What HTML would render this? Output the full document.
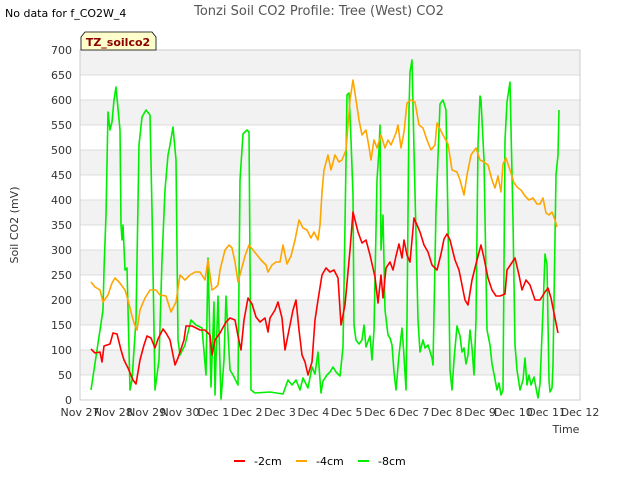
<!DOCTYPE html>
<html><head><meta charset="utf-8"><style>
body{margin:0;background:#fff;}
svg{display:block;font-family:"DejaVu Sans","Liberation Sans",sans-serif;}
</style></head><body>
<svg id="chart" width="640" height="480">
<text x="5" y="17" font-size="11" fill="#000">No data for f_CO2W_4</text>
<text x="319" y="15" font-size="13" fill="#555" text-anchor="middle">Tonzi Soil CO2 Profile: Tree (West) CO2</text>
<g id="grid"></g>
<g id="series"></g>
<rect x="80" y="50" width="500" height="350" fill="none" stroke="#ccc"/>
<g id="axes"></g>
<path d="M81,50 L81,37 L85,32 L152,32 L156,37 L156,50 Z" fill="#ffffcc" stroke="#000" stroke-width="0.8"/>
<text x="118" y="46" font-size="11" font-weight="bold" fill="#8b0000" text-anchor="middle">TZ_soilco2</text>
<text x="18" y="225" font-size="11" fill="#333" text-anchor="middle" transform="rotate(-90 18 225)">Soil CO2 (mV)</text>
<text x="566" y="433" font-size="11" fill="#333" text-anchor="middle">Time</text>
<g id="legend"></g>
</svg>
<script>
const xTickLabels=["Nov 27","Nov 28","Nov 29","Nov 30","Dec 1","Dec 2","Dec 3","Dec 4","Dec 5","Dec 6","Dec 7","Dec 8","Dec 9","Dec 10","Dec 11","Dec 12"];
const yTicks=[0,50,100,150,200,250,300,350,400,450,500,550,600,650,700];
const seriesNames=["-2cm","-4cm","-8cm"];
const seriesColors=["#ff0000","#ffa500","#00ee00"];
const redDays=[0.33,0.45,0.6,0.66,0.72,0.9,0.99,1.11,1.23,1.32,1.44,1.59,1.68,1.8,1.92,2.01,2.13,2.25,2.34,2.49,2.58,2.7,2.76,2.85,2.94,3.0,3.12,3.18,3.36,3.48,3.6,3.75,3.9,3.96,4.05,4.2,4.38,4.5,4.65,4.74,4.83,4.92,5.04,5.16,5.28,5.4,5.55,5.64,5.7,5.85,5.94,6.06,6.15,6.3,6.39,6.48,6.57,6.66,6.75,6.84,6.96,7.05,7.14,7.26,7.38,7.5,7.62,7.74,7.83,7.95,8.1,8.19,8.34,8.46,8.58,8.7,8.85,8.94,9.03,9.09,9.18,9.3,9.39,9.48,9.57,9.66,9.72,9.81,9.9,10.02,10.2,10.32,10.44,10.56,10.71,10.83,10.92,11.01,11.1,11.25,11.37,11.46,11.55,11.64,11.76,11.91,12.03,12.12,12.24,12.36,12.48,12.6,12.75,12.81,12.93,13.05,13.17,13.26,13.38,13.5,13.65,13.8,13.95,14.04,14.13,14.25,14.34];
const redValues=[102,94,96,76,108,112,134,132,100,80,64,40,32,80,110,128,124,104,122,142,134,120,100,70,84,96,120,148,148,144,140,140,130,90,120,134,156,164,160,128,100,160,204,192,166,156,164,136,164,180,196,164,100,150,180,200,140,90,76,50,76,160,200,250,264,256,260,244,150,190,300,376,336,314,320,290,246,194,250,204,264,276,260,288,312,284,320,290,276,364,336,310,296,270,260,292,322,332,320,280,260,230,200,190,240,280,310,284,244,220,208,208,212,260,272,284,250,220,240,230,200,200,216,224,204,164,134];
const orangeDays=[0.33,0.45,0.6,0.69,0.84,0.96,1.05,1.17,1.35,1.44,1.53,1.62,1.71,1.8,1.95,2.1,2.28,2.4,2.58,2.73,2.88,3.0,3.15,3.3,3.45,3.6,3.75,3.84,3.96,4.05,4.14,4.2,4.35,4.47,4.56,4.65,4.74,4.95,5.07,5.19,5.31,5.43,5.58,5.64,5.76,5.88,6.0,6.09,6.21,6.33,6.45,6.51,6.57,6.69,6.81,6.93,7.02,7.14,7.2,7.26,7.32,7.44,7.53,7.65,7.77,7.86,7.98,8.1,8.19,8.28,8.37,8.46,8.58,8.67,8.73,8.82,8.91,9.03,9.15,9.24,9.33,9.48,9.54,9.63,9.72,9.81,9.93,10.05,10.17,10.29,10.41,10.53,10.65,10.71,10.89,11.04,11.16,11.31,11.4,11.52,11.61,11.73,11.88,12.0,12.12,12.24,12.36,12.45,12.54,12.63,12.69,12.78,12.9,13.02,13.14,13.23,13.35,13.47,13.59,13.71,13.8,13.89,13.98,14.07,14.16,14.25,14.31];
const orangeValues=[236,226,220,196,210,234,244,236,220,200,176,154,140,180,204,220,220,210,208,176,196,250,240,250,256,256,240,280,220,224,230,260,300,310,304,276,236,288,310,300,290,280,270,256,270,276,276,310,272,288,320,340,360,344,340,324,336,320,350,416,460,490,460,490,476,480,500,600,640,600,560,530,540,506,480,520,504,530,504,520,510,534,550,504,536,594,600,596,550,544,520,500,510,554,530,512,460,456,440,410,450,490,504,480,476,470,440,424,448,416,472,484,460,434,424,420,408,400,404,392,392,404,374,370,376,360,346];
const greenDays=[0.33,0.69,0.72,0.78,0.84,0.9,0.96,1.02,1.08,1.2,1.23,1.26,1.29,1.35,1.41,1.5,1.56,1.68,1.77,1.86,1.98,2.1,2.16,2.25,2.37,2.46,2.55,2.64,2.7,2.79,2.88,2.94,3.0,3.15,3.33,3.48,3.66,3.78,3.84,3.93,4.02,4.05,4.08,4.14,4.23,4.32,4.38,4.5,4.59,4.74,4.8,4.89,5.01,5.07,5.13,5.25,5.7,6.09,6.24,6.36,6.48,6.6,6.69,6.84,6.96,7.05,7.14,7.23,7.29,7.41,7.5,7.59,7.68,7.8,7.89,7.95,8.01,8.07,8.13,8.19,8.22,8.28,8.37,8.46,8.52,8.58,8.7,8.76,8.82,8.91,8.97,9.0,9.03,9.09,9.15,9.24,9.3,9.36,9.42,9.48,9.57,9.66,9.72,9.78,9.81,9.87,9.9,9.96,10.02,10.14,10.2,10.29,10.35,10.44,10.56,10.59,10.68,10.8,10.89,10.98,11.04,11.1,11.16,11.22,11.31,11.4,11.46,11.52,11.58,11.64,11.7,11.76,11.82,11.88,11.94,12.0,12.03,12.12,12.21,12.3,12.36,12.42,12.51,12.57,12.63,12.69,12.75,12.81,12.9,12.99,13.05,13.11,13.2,13.29,13.35,13.41,13.47,13.53,13.62,13.68,13.74,13.8,13.89,13.95,14.01,14.07,14.1,14.16,14.19,14.22,14.28,14.34,14.37];
const greenValues=[20,180,260,370,576,540,556,600,626,540,350,320,350,260,264,20,40,160,510,566,580,570,380,20,80,280,420,490,510,546,480,120,90,110,160,150,144,50,284,26,196,10,80,208,0,80,208,60,50,30,440,532,540,536,20,14,16,12,40,30,40,20,44,24,66,52,96,14,38,50,56,66,56,48,106,350,610,614,520,410,150,120,112,120,150,106,128,80,140,440,500,550,300,370,180,130,124,110,56,20,90,144,88,20,160,580,656,680,500,160,96,120,104,110,84,70,380,592,600,580,356,60,20,80,148,128,96,104,72,90,140,104,50,160,510,608,600,480,140,110,72,52,20,34,10,20,520,596,636,360,110,60,20,40,84,30,50,30,46,24,4,32,180,292,270,40,16,24,70,200,450,490,580];

const NS='http://www.w3.org/2000/svg';
const PX0=80,PX1=580,PY0=400,PY1=50,DAYS=15,VMAX=700;
function xs(d){return PX0+d*(PX1-PX0)/DAYS;}
function ys(v){return PY0-v*(PY0-PY1)/VMAX;}
function mk(tag,attrs,parent){const e=document.createElementNS(NS,tag);for(const k in attrs)e.setAttribute(k,attrs[k]);parent.appendChild(e);return e;}
const grid=document.getElementById('grid'),axes=document.getElementById('axes'),ser=document.getElementById('series'),leg=document.getElementById('legend');
for(let i=0;i<yTicks.length-1;i++){
  if(i%2===1){const r=mk('rect',{x:PX0,y:ys(yTicks[i+1]),width:PX1-PX0,height:ys(yTicks[i])-ys(yTicks[i+1]),fill:'#f2f2f2'},grid);
  
  }
}
yTicks.forEach(v=>{
  const l=mk('line',{x1:PX0,x2:PX1,y1:ys(v),y2:ys(v),stroke:'#dcdcdc'},grid);
  
  
  const t=mk('text',{x:PX0-8,y:ys(v)+4,'font-size':11,fill:'#333','text-anchor':'end'},axes);
  t.textContent=v;
  
  
});
xTickLabels.forEach((lab,i)=>{
  const t=mk('text',{x:xs(i),y:PY0+16,'font-size':11,fill:'#333','text-anchor':'middle'},axes);
  t.textContent=lab;
  
  
});
const allDays=[redDays,orangeDays,greenDays],allVals=[redValues,orangeValues,greenValues];
[2,1,0].forEach(s=>{
  const d=allDays[s],v=allVals[s],n=Math.min(d.length,v.length);let p='';
  for(let i=0;i<n;i++)p+=(i?'L':'M')+xs(d[i]).toFixed(1)+','+ys(v[i]).toFixed(1);
  const path=mk('path',{d:p,fill:'none',stroke:seriesColors[s],'stroke-width':1.6,'stroke-linejoin':'round'},ser);
  
  
});
const legX=[234,296,358];
seriesNames.forEach((nm,i)=>{
  const l=mk('line',{x1:legX[i],x2:legX[i]+11,y1:461,y2:461,stroke:seriesColors[i],'stroke-width':2},leg);
  
  
  const t=mk('text',{x:legX[i]+20,y:465,'font-size':11,fill:'#000'},leg);
  t.textContent=nm;
  
  
});
</script>
</body></html>
